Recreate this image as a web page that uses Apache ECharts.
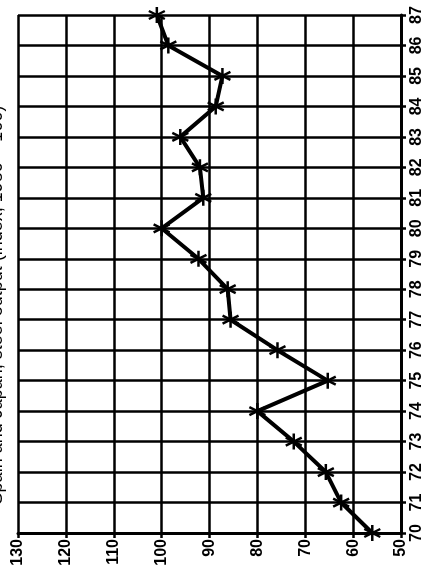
<!DOCTYPE html>
<html>
<head>
<meta charset="utf-8">
<script src="https://cdn.jsdelivr.net/npm/echarts@6/dist/echarts.min.js"></script>
<style>html,body{margin:0;padding:0;background:#fff}#c{width:425px;height:579px}</style>
</head>
<body>
<div id="c"></div>
<script>
var years = ['70','71','72','73','74','75','76','77','78','79','80','81','82','83','84','85','86','87'];
var values = [56, 62.5, 65.7, 72.4, 80, 65.3, 75.8, 85.6, 86.2, 92.3, 100, 91.3, 92, 96.1, 88.7, 87.3, 98.6, 101];
var titleText = 'Spain and Japan, steel output (index, 1980 = 100)';

var chart = echarts.init(document.getElementById('c'), null, {renderer: 'canvas'});
var star = 'path://M0,-10L0,10M-8.7,-5L8.7,5M-8.7,5L8.7,-5';
var font = 'Liberation Sans, Arial, sans-serif';
chart.setOption({
  backgroundColor: '#fff',
  animation: false,
  grid: {left: 18, right: 24, top: 15, bottom: 46},
  graphic: [{
    type: 'text', x: -3, y: 305, rotation: Math.PI / 2,
    style: {text: titleText, fontSize: 18, fontFamily: font, fill: '#000', textAlign: 'center', textVerticalAlign: 'middle'}
  }],
  xAxis: {
    type: 'value', min: 50, max: 130, interval: 10, inverse: true,
    axisLine: {show: true, lineStyle: {color: '#000', width: 3}},
    axisTick: {show: true, length: 5, lineStyle: {color: '#000', width: 2.5}},
    splitLine: {show: true, lineStyle: {color: '#000', width: 2.5}},
    axisLabel: {rotate: 90, margin: 6, color: '#000', fontSize: 16, fontWeight: 'bold', fontFamily: font}
  },
  yAxis: {
    type: 'category', data: years, position: 'right', boundaryGap: false,
    axisLine: {show: true, lineStyle: {color: '#000', width: 3}},
    axisTick: {show: true, length: 5, alignWithLabel: true, lineStyle: {color: '#000', width: 2.5}},
    splitLine: {show: true, lineStyle: {color: '#000', width: 2.5}},
    axisLabel: {rotate: 90, margin: 8, color: '#000', fontSize: 16, fontWeight: 'bold', fontFamily: font}
  },
  series: [{
    type: 'line', data: values,
    lineStyle: {color: '#000', width: 4},
    symbol: star, symbolSize: 16,
    itemStyle: {color: '#000', borderColor: '#000', borderWidth: 2.5},
    z: 5
  }]
});
</script>
</body>
</html>
